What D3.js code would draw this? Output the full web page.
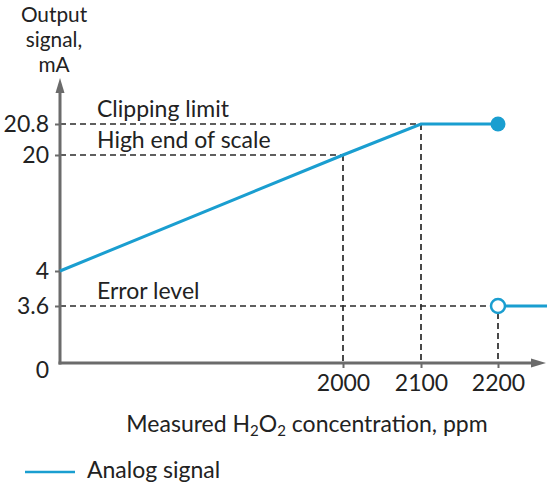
<!DOCTYPE html>
<html><head><meta charset="utf-8">
<script src="https://cdn.jsdelivr.net/npm/d3@7"></script>
<style>
body{margin:0;background:#fff;}
svg{display:block;font-family:Lato, "Open Sans", sans-serif;}
</style></head>
<body><svg id="chart" width="547" height="486"></svg>
<script>
// Data
const xTicks = [2000, 2100, 2200];
const yTicks = [0, 3.6, 4, 20, 20.8];
const yTickLabels = ["0", "3.6", "4", "20", "20.8"];
const signalX = [0, 2000, 2100, 2200];
const signalY = [4, 20, 20.8, 20.8];
const errorX = [2200, 2264];
const errorY = [3.6, 3.6];
const refLines = [
  {label: "Clipping limit", y: 20.8, x: 2100},
  {label: "High end of scale", y: 20, x: 2000},
  {label: "Error level", y: 3.6, x: 2200}
];
const yTitle = ["Output", "signal,", "mA"];
const legendLabel = "Analog signal";

const blue = "#1a9ed0", axisCol = "#6b6b6b", txt = "#222";
const FS = 23;
const svg = d3.select("#chart");

// schematic (piecewise) scales
const x = d3.scaleLinear().domain([0, 2000, 2100, 2200, 2264]).range([60, 343, 421, 498, 547]);
const y = d3.scaleLinear().domain([0, 3.6, 4, 20, 20.8]).range([363, 306, 271, 155, 124]);

// dashed reference lines
const dash = svg.append("g").attr("stroke", "#2a2a2a").attr("stroke-width", 1.7).attr("stroke-dasharray", "6,4").attr("fill", "none");
refLines.forEach(r => {
  const xe = r.y === 3.6 ? x(r.x) - 7 : x(r.x);
  dash.append("line").attr("x1", x(0)).attr("x2", xe).attr("y1", y(r.y)).attr("y2", y(r.y));
  const ys = r.y === 3.6 ? y(r.y) + 7 : y(r.y);
  dash.append("line").attr("x1", x(r.x)).attr("x2", x(r.x)).attr("y1", ys).attr("y2", y(0));
});
svg.append("g").selectAll("text").data(refLines).join("text")
  .attr("x", 97).attr("y", d => y(d.y) - 7)
  .attr("font-size", FS).attr("fill", txt).text(d => d.label);

// axes
const yAxis = svg.append("g").attr("transform", `translate(${x(0)},0)`)
  .call(d3.axisLeft(y).tickValues(yTicks).tickFormat((d, i) => yTickLabels[i]).tickSize(5).tickPadding(6));
yAxis.select(".domain").remove();
yAxis.selectAll(".tick line").attr("stroke", axisCol).attr("stroke-width", 2);
yAxis.selectAll(".tick text").attr("font-size", FS).attr("fill", txt).attr("font-family", "Lato");
yAxis.selectAll(".tick").filter(d => d === 0).select("line").remove();
yAxis.selectAll(".tick").filter(d => d === 0).select("text").attr("dy", "0.62em");

const xAxis = svg.append("g").attr("transform", `translate(0,${y(0)})`)
  .call(d3.axisBottom(x).tickValues(xTicks).tickFormat(d3.format("d")).tickSize(5).tickPadding(7));
xAxis.select(".domain").remove();
xAxis.selectAll(".tick line").attr("stroke", axisCol).attr("stroke-width", 2);
xAxis.selectAll(".tick text").attr("font-size", FS).attr("fill", txt).attr("font-family", "Lato");

// axis lines with arrows
const ax = svg.append("g").attr("stroke", axisCol).attr("stroke-width", 3).attr("fill", "none");
ax.append("line").attr("x1", x(0)).attr("x2", x(0)).attr("y1", y(0) + 1.5).attr("y2", 90);
ax.append("line").attr("x1", x(0) - 1.5).attr("x2", 538).attr("y1", y(0)).attr("y2", y(0));
svg.append("path").attr("d", `M${x(0)},78 L${x(0) - 4.5},93 L${x(0) + 4.5},93 Z`).attr("fill", axisCol);
svg.append("path").attr("d", `M546,${y(0)} L531,${y(0) - 4.5} L531,${y(0) + 4.5} Z`).attr("fill", axisCol);

// signal
const line = d3.line().x(d => x(d[0])).y(d => y(d[1]));
svg.append("path").datum(signalX.map((v, i) => [v, signalY[i]])).attr("d", line)
  .attr("fill", "none").attr("stroke", blue).attr("stroke-width", 3);
svg.append("path").datum(errorX.map((v, i) => [v, errorY[i]])).attr("d", line)
  .attr("fill", "none").attr("stroke", blue).attr("stroke-width", 3);
svg.append("circle").attr("cx", x(signalX[3])).attr("cy", y(signalY[3])).attr("r", 7.5).attr("fill", blue);
svg.append("circle").attr("cx", x(errorX[0])).attr("cy", y(errorY[0])).attr("r", 7).attr("fill", "#fff")
  .attr("stroke", blue).attr("stroke-width", 2.5);

// titles
svg.append("g").selectAll("text").data(yTitle).join("text")
  .attr("x", 54).attr("y", (d, i) => 22 + i * 25).attr("text-anchor", "middle")
  .attr("font-size", 20.8).attr("fill", txt).text(d => d);

const xt = svg.append("text").attr("x", 307).attr("y", 432).attr("text-anchor", "middle")
  .attr("font-size", FS).attr("fill", txt);
xt.append("tspan").text("Measured H");
xt.append("tspan").text("2").attr("font-size", 15).attr("dy", 4);
xt.append("tspan").text("O").attr("dy", -4);
xt.append("tspan").text("2").attr("font-size", 15).attr("dy", 4);
xt.append("tspan").text(" concentration, ppm").attr("dy", -4);

// legend
svg.append("line").attr("x1", 25).attr("x2", 75).attr("y1", 472).attr("y2", 472).attr("stroke", blue).attr("stroke-width", 2.5);
svg.append("text").attr("x", 87).attr("y", 478).attr("font-size", FS).attr("fill", txt).text(legendLabel);
</script></body></html>
